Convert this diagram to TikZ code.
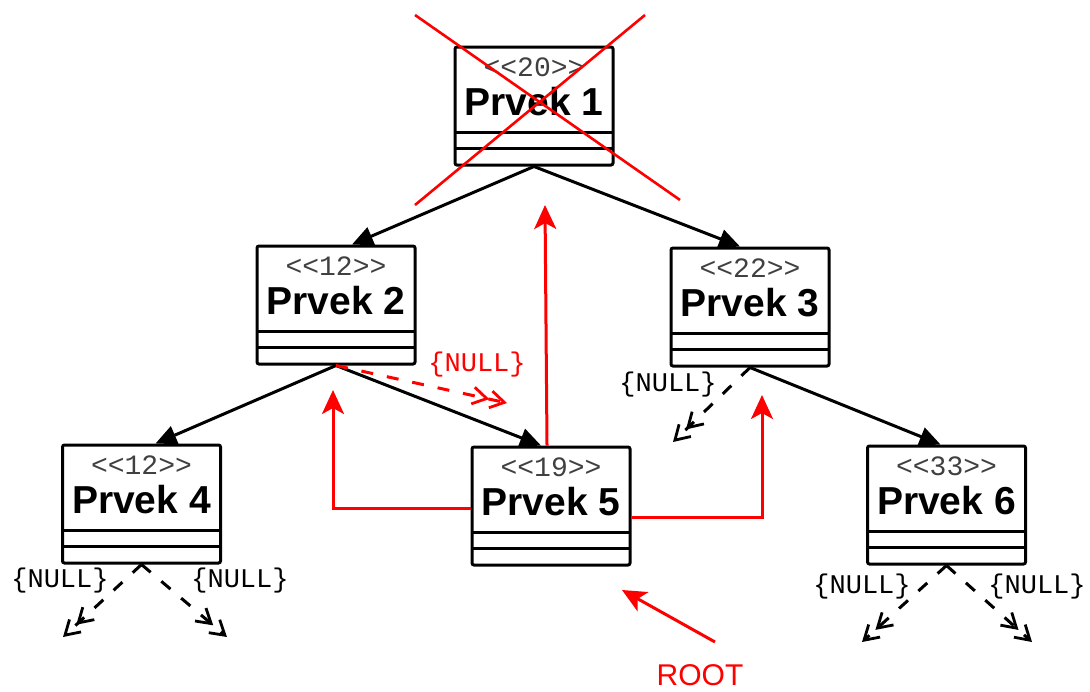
\documentclass[tikz,border=0pt]{standalone}
\usepackage{fontspec}
\usepackage{tikz}
\usetikzlibrary{arrows.meta,positioning}
\newfontfamily\monof{Liberation Mono}
\newfontfamily\sansf{Liberation Sans}

\begin{document}
\begin{tikzpicture}[x=0.5pt,y=-0.5pt,
  box/.style={draw,line width=1.5pt,rounded corners=1pt,fill=white,inner sep=0pt,
    minimum width=79pt,minimum height=59pt,
    path picture={\draw[line width=1.5pt]
      ([yshift=8.5pt]path picture bounding box.south west) -- ([yshift=8.5pt]path picture bounding box.south east)
      ([yshift=16.5pt]path picture bounding box.south west) -- ([yshift=16.5pt]path picture bounding box.south east);}},
  num/.style={font=\monof\fontsize{14}{14}\selectfont,text=black!75,anchor=base,inner sep=0pt},
  title/.style={font=\sansf\bfseries\fontsize{19.5}{20}\selectfont,anchor=base,inner sep=0pt},
  null/.style={font=\monof\fontsize{13.5}{14}\selectfont,inner sep=0pt},
  link/.style={line width=1.5pt,-{Triangle[length=10.5pt,width=9.5pt]}},
  nolink/.style={line width=1.5pt,dash pattern=on 6pt off 7pt,
    -{Straight Barb[length=7pt,width=8.5pt,line width=1.4pt]Straight Barb[length=7pt,width=8.5pt,line width=1.4pt]}},
  back/.style={red,line width=1.5pt,-{Stealth[length=12pt,width=11pt,inset=3pt]}}]
\useasboundingbox (0,0) rectangle (1090,691);
%% boxes
\node[box] (p1) at (534,106) {};
\node[num] (p1n) at ([yshift=-15.5pt]p1.north) {<<20>>};
\node[title] (p1t) at ([yshift=-35pt]p1.north) {Prvek 1};
\node[box] (p2) at (336,305) {};
\node[num] (p2n) at ([yshift=-15.5pt]p2.north) {<<12>>};
\node[title] (p2t) at ([yshift=-35pt]p2.north) {Prvek 2};
\node[box] (p3) at (750,307) {};
\node[num] (p3n) at ([yshift=-15.5pt]p3.north) {<<22>>};
\node[title] (p3t) at ([yshift=-35pt]p3.north) {Prvek 3};
\node[box] (p4) at (141.5,504) {};
\node[num] (p4n) at ([yshift=-15.5pt]p4.north) {<<12>>};
\node[title] (p4t) at ([yshift=-35pt]p4.north) {Prvek 4};
\node[box] (p5) at (551,506) {};
\node[num] (p5n) at ([yshift=-15.5pt]p5.north) {<<19>>};
\node[title] (p5t) at ([yshift=-35pt]p5.north) {Prvek 5};
\node[box] (p6) at (946.5,505) {};
\node[num] (p6n) at ([yshift=-15.5pt]p6.north) {<<33>>};
\node[title] (p6t) at ([yshift=-35pt]p6.north) {Prvek 6};
%% links
\draw[link] (p1.south) -- ([xshift=8pt]p2.north);
\draw[link] (p1.south) -- ([xshift=-5pt]p3.north);
\draw[link] (p2.south) -- ([xshift=7pt]p4.north);
\draw[link] (p2.south) -- ([xshift=-5pt]p5.north);
\draw[link] (p3.south) -- ([xshift=-3pt]p6.north);
%% null links
\coordinate (n4a) at (63,637);
\coordinate (n4b) at (227,637);
\coordinate (n3a) at (673,442);
\coordinate (n6a) at (862,642);
\coordinate (n6b) at (1032,642);
\coordinate (n2b) at (507,403);
\draw[nolink] (p4.south) -- (n4a);
\draw[nolink] (p4.south) -- (n4b);
\draw[nolink] (p3.south) -- (n3a);
\draw[nolink] (p6.south) -- (n6a);
\draw[nolink] (p6.south) -- (n6b);
\draw[nolink,red] (p2.south) -- (n2b);
\node[null] (l4a) at (60,581) {\{NULL\}};
\node[null] (l4b) at (240,581) {\{NULL\}};
\node[null] (l3a) at (668,385) {\{NULL\}};
\node[null] (l6a) at (862,587) {\{NULL\}};
\node[null] (l6b) at (1037,587) {\{NULL\}};
\node[null,text=red] (l2b) at (477,365) {\{NULL\}};
%% new root
\coordinate (a1) at (545,205);
\coordinate (a2) at (333,390);
\coordinate (a3) at (762,395);
\coordinate (r1) at (622,590);
\draw[back] ([xshift=-2pt]p5.north) -- (a1);
\draw[back] ([yshift=-1pt]p5.west) -| (a2);
\draw[back] ([yshift=-5.5pt]p5.east) -| (a3);
\node[font=\sansf\fontsize{15}{15}\selectfont,text=red,inner sep=0pt] (root) at (700,675) {ROOT};
\draw[back] ([xshift=7.5pt,yshift=11pt]root.north) -- (r1);
%% removed
\draw[red,line width=1.3pt] (415,15) -- (680,200);
\draw[red,line width=1.3pt] (645,15) -- (415,205);
\end{tikzpicture}
\end{document}
